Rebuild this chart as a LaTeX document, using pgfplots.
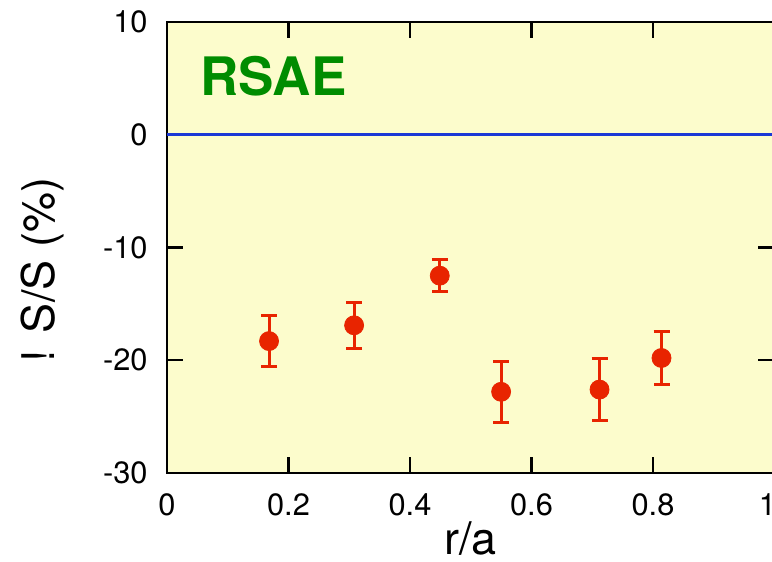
\documentclass[border=0pt]{standalone}
\usepackage{pgfplots}
\pgfplotsset{compat=1.18}
\usepackage{fontspec}
\setmainfont{TeX Gyre Heros}
\definecolor{panelbg}{RGB}{252,252,204}
\definecolor{ptred}{RGB}{232,36,0}
\definecolor{zeroblue}{RGB}{26,56,214}
\definecolor{tagreen}{RGB}{0,140,0}
\begin{document}
\begin{tikzpicture}
\begin{axis}[
  name=ax,
  scale only axis,
  width=303.75pt, height=225.5pt,
  xmin=0, xmax=1, ymin=-30, ymax=10,
  xtick={0,0.2,0.4,0.6,0.8,1},
  xticklabels={0,0.2,0.4,0.6,0.8,\hspace*{-7pt}1},
  ytick={-30,-20,-10,0,10},
  yticklabels={-30,-20,-10,0,10},
  tick align=inside,
  major tick length=8pt,
  minor tick num=0,
  axis line style={line width=1.3pt},
  every tick/.style={black, line width=1.2pt},
  axis background/.style={fill=panelbg},
  ticklabel style={font=\fontsize{15.4pt}{18pt}\selectfont},
  xticklabel style={inner sep=0pt, yshift=-10pt},
  yticklabel style={inner sep=0pt, xshift=-9.5pt},
  xlabel={r/a},
  ylabel={! S/S (\%)},
  label style={font=\fontsize{22.5pt}{26pt}\selectfont},
  xlabel style={at={(axis description cs:0.5,0)}, anchor=north, inner sep=0pt, yshift=-24pt},
  ylabel style={at={(axis description cs:-0.205,0.45)}, anchor=center, inner sep=0pt, rotate=0},
  clip=false,
]
% zero reference line
\addplot[zeroblue, line width=1.4pt, no marks] coordinates {(0,0) (1,0)};
% measured points with symmetric error bars
\addplot[
  only marks,
  mark=*,
  mark size=4.75pt,
  mark options={fill=ptred, draw=ptred},
  color=ptred,
  error bars/.cd,
    y dir=both, y explicit,
    error bar style={line width=1.5pt, ptred},
    error mark options={rotate=90, mark size=4pt, line width=1.5pt, ptred},
] coordinates {
  (0.168,-18.3) +- (0,2.25)
  (0.308,-16.9) +- (0,2.05)
  (0.449,-12.5) +- (0,1.42)
  (0.550,-22.8) +- (0,2.72)
  (0.712,-22.6) +- (0,2.72)
  (0.814,-19.8) +- (0,2.37)
};
\node[anchor=west, inner sep=0pt, text=tagreen, font=\fontsize{26.5pt}{30pt}\selectfont\bfseries]
  at (axis cs:0.054,5.2) {RSAE};
\end{axis}
\pgfresetboundingbox
\path[use as bounding box]
  ([shift={(-83.5pt,-44.5pt)}]ax.south west) rectangle
  ([shift={(302.5pt,236.5pt)}]ax.south west);
\end{tikzpicture}
\end{document}
